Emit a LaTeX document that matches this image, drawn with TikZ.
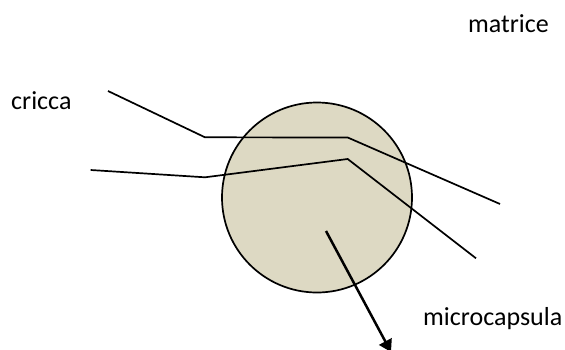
\documentclass[tikz,border=0pt]{standalone}
\usepackage{fontspec}
\setmainfont{Carlito}
\usetikzlibrary{arrows.meta}
\definecolor{capfill}{HTML}{DDD9C3}
\begin{document}
\begin{tikzpicture}[x=1pt,y=-1pt,
  lbl/.style={inner sep=0pt,anchor=base west,font=\fontsize{26}{31}\selectfont},
  crack/.style={line width=1.7pt,line join=miter},
  ptr/.style={line width=2.5pt,-{Triangle[width=14pt,length=12pt]}}]
\useasboundingbox (0,0) rectangle (565,349);
\node[circle,draw,line width=1.7pt,fill=capfill,minimum size=190pt,inner sep=0pt] (cap) at (317,197.5) {};
\coordinate (a1) at (108,91);
\coordinate (a2) at (205,137.3);
\coordinate (a3) at (347.7,137.5);
\coordinate (a4) at (500,204);
\coordinate (b1) at (90.7,170);
\coordinate (b2) at (205,177.3);
\coordinate (b3) at (347.7,159);
\coordinate (b4) at (476,258.3);
\draw[crack] (a1) -- (a2) -- (a3) -- (a4);
\draw[crack] (b1) -- (b2) -- (b3) -- (b4);
\coordinate (p1) at (326,231);
\coordinate (p2) at (391,352);
\draw[ptr] (p1) -- (p2);
\node[lbl] (matrice) at (468,32) {matrice};
\node[lbl] (cricca) at (11,109.3) {cricca};
\node[lbl] (micro) at (423,325) {microcapsula};
\end{tikzpicture}
\end{document}
